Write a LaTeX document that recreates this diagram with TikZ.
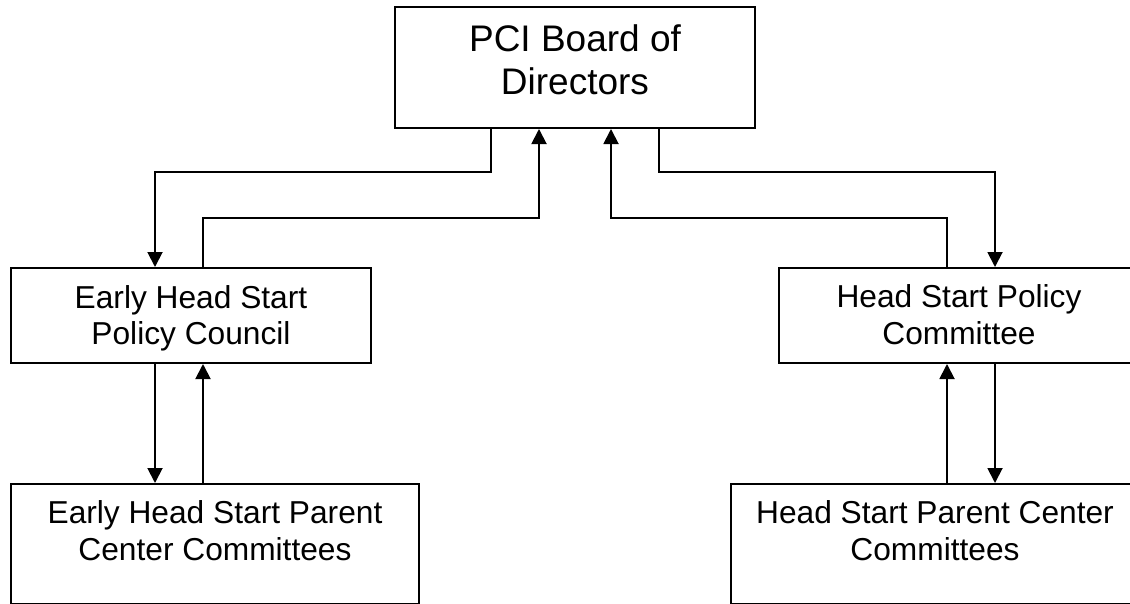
\documentclass[tikz,border=0pt]{standalone}
\usepackage{fontspec}
\setmainfont{Liberation Sans}
\usepackage{tikz}
\usetikzlibrary{arrows.meta}

\begin{document}
\begin{tikzpicture}[
  x=1pt, y=-1pt,
  box/.style={draw, line width=2pt, inner sep=0pt},
  txt/.style={align=center, font=\fontsize{31.7}{36.8}\selectfont},
  txttop/.style={align=center, font=\fontsize{37}{43}\selectfont},
  link/.style={-{Triangle[width=15pt,length=15pt]}, line width=1.9pt}
]
\path[use as bounding box, clip] (0,0) rectangle (1130,603);

%========== boxes ==========
\node[box, minimum width=360pt, minimum height=121pt] (board) at (575,67.5) {};
\node[txttop] (boardtxt) at (575,60) {PCI Board of\\Directors};

\node[box, minimum width=360pt, minimum height=95pt] (ehspc) at (191,315.5) {};
\node[txt] (ehspctxt) at (191,318.3) {Early Head Start\\Policy Council};

\node[box, minimum width=360pt, minimum height=95pt] (hspc) at (959,315.5) {};
\node[txt] (hspctxt) at (959,314.9) {Head Start Policy\\Committee};

% parent committees, cut off by the page edge
\node[box, minimum width=408pt, minimum height=119.5pt] (ehspar) at (215,543.75) {};
\node[txt] (ehspartxt) at (215,530.9) {Early Head Start Parent\\Center Committees};

\node[box, minimum width=408pt, minimum height=119.5pt] (hspar) at (935,543.75) {};
\node[txt] (hspartxt) at (935,530.9) {Head Start Parent Center\\Committees};

%========== board <-> policy groups ==========
\draw[link] ([xshift=-84pt]board.south) -- ++(0,43) -| ([xshift=-36pt]ehspc.north);
\draw[link] ([xshift=12pt]ehspc.north) -- ++(0,-49) -| ([xshift=-36pt]board.south);
\draw[link] ([xshift=84pt]board.south) -- ++(0,43) -| ([xshift=36pt]hspc.north);
\draw[link] ([xshift=-12pt]hspc.north) -- ++(0,-49) -| ([xshift=36pt]board.south);

%========== policy groups <-> parent committees ==========
\draw[link] ([xshift=-36pt]ehspc.south) -- ([xshift=-60pt]ehspar.north);
\draw[link] ([xshift=-12pt]ehspar.north) -- ([xshift=12pt]ehspc.south);
\draw[link] ([xshift=12pt]hspar.north) -- ([xshift=-12pt]hspc.south);
\draw[link] ([xshift=36pt]hspc.south) -- ([xshift=60pt]hspar.north);
\end{tikzpicture}
\end{document}
